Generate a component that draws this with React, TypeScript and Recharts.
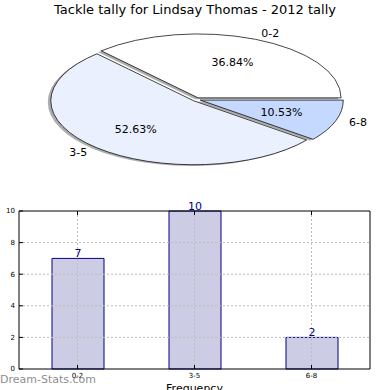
import React from "react";
import {
  PieChart,
  Pie,
  Cell,
  BarChart,
  Bar,
  XAxis,
  YAxis,
  ReferenceLine,
  LabelList,
} from "recharts";

const categories = ["0-2", "3-5", "6-8"];
const tallies = [7, 10, 2];
const sliceColors = ["#ffffff", "#eaf0fe", "#c5d8fe"];
const yTicks = [0, 2, 4, 6, 8, 10];
const gridY = [2, 4, 6, 8];

const FONT = "'DejaVu Sans', sans-serif";

// matplotlib draws the pie squashed, so draw a circle and squash it vertically
const K = 0.447;
const PIE_H = 460;
const CX = 196.5;
const CY = 99.5 / K;
const R = 143;
const EXPLODE = 4;
const SHADOW = 3;
const RAD = Math.PI / 180;

const pieData = categories.map((c, i) => ({ range: c, value: tallies[i] }));
const barData = categories.map((c, i) => ({ range: c, count: tallies[i] }));

const total = tallies.reduce((a, b) => a + b, 0);
const midAngles = tallies.map((v, i) => {
  const before = tallies.slice(0, i).reduce((a, b) => a + b, 0);
  return ((before + v / 2) / total) * 360;
});

function sliceLabel(i: number, cx: number, cy: number) {
  return (p: any) => {
    if (p.index !== i) return null;
    const mid = p.midAngle ?? midAngles[i];
    const cos = Math.cos(-mid * RAD);
    const sin = Math.sin(-mid * RAD);
    const lx = cx + R * 1.1 * cos;
    const ly = cy + R * 1.1 * sin;
    const px = cx + R * 0.6 * cos;
    const py = cy + R * 0.6 * sin;
    const pct = ((p.percent ?? tallies[i] / total) * 100).toFixed(2) + "%";
    return (
      <g>
        <text
          transform={`translate(${lx},${ly}) scale(1,${1 / K})`}
          textAnchor={cos >= 0 ? "start" : "end"}
          dominantBaseline="central"
          fontSize={11}
          fontFamily={FONT}
          fill="#000"
        >
          {categories[i]}
        </text>
        <text
          transform={`translate(${px},${py}) scale(1,${1 / K})`}
          textAnchor="middle"
          dominantBaseline="central"
          fontSize={11}
          fontFamily={FONT}
          fill="#000"
        >
          {pct}
        </text>
      </g>
    );
  };
}

export default function App() {
  return (
    <div
      style={{
        position: "absolute",
        left: 0,
        top: 0,
        width: 390,
        height: 390,
        background: "#fff",
        overflow: "hidden",
        fontFamily: FONT,
      }}
    >
      <div
        style={{
          position: "absolute",
          left: 0,
          top: 0,
          width: 390,
          height: PIE_H,
          transform: `scaleY(${K})`,
          transformOrigin: "0 0",
        }}
      >
        <PieChart width={390} height={PIE_H} margin={{ top: 0, right: 0, bottom: 0, left: 0 }}>
          {midAngles.map((m, i) => (
            <Pie
              key={"sh" + i}
              data={pieData}
              dataKey="value"
              nameKey="range"
              cx={CX + EXPLODE * Math.cos(m * RAD) - SHADOW}
              cy={CY - EXPLODE * Math.sin(m * RAD) + SHADOW}
              outerRadius={R}
              startAngle={0}
              endAngle={360}
              stroke="none"
              isAnimationActive={false}
            >
              {pieData.map((_, j) => (
                <Cell key={j} fill={j === i ? "#8a8a8a" : "none"} fillOpacity={0.7} stroke="none" />
              ))}
            </Pie>
          ))}
          {midAngles.map((m, i) => {
            const cx = CX + EXPLODE * Math.cos(m * RAD);
            const cy = CY - EXPLODE * Math.sin(m * RAD);
            return (
              <Pie
                key={"sl" + i}
                data={pieData}
                dataKey="value"
                nameKey="range"
                cx={cx}
                cy={cy}
                outerRadius={R}
                startAngle={0}
                endAngle={360}
                isAnimationActive={false}
                labelLine={false}
                label={sliceLabel(i, cx, cy)}
              >
                {pieData.map((_, j) => (
                  <Cell
                    key={j}
                    fill={j === i ? sliceColors[j] : "none"}
                    stroke={j === i ? "#000" : "none"}
                    strokeWidth={1}
                    vectorEffect="non-scaling-stroke"
                  />
                ))}
              </Pie>
            );
          })}
        </PieChart>
      </div>

      <div
        style={{
          position: "absolute",
          left: 0,
          top: 2,
          width: 390,
          textAlign: "center",
          fontSize: 13,
          lineHeight: "16px",
          color: "#000",
        }}
      >
        Tackle tally for Lindsay Thomas - 2012 tally
      </div>

      <div style={{ position: "absolute", left: 0, top: 195, width: 390, height: 195 }}>
        <BarChart
          width={390}
          height={195}
          data={barData}
          margin={{ top: 15, right: 19, bottom: 0, left: 0 }}
        >
          <XAxis
            dataKey="range"
            height={21}
            stroke="#000"
            tickSize={-4}
            tickMargin={8}
            tick={{ fontSize: 7, fill: "#000", fontFamily: FONT }}
            label={{
              value: "Frequency",
              position: "insideTop",
              offset: 15,
              fontSize: 11,
              fill: "#000",
              fontFamily: FONT,
            }}
          />
          <XAxis
            xAxisId="t"
            orientation="top"
            dataKey="range"
            height={1}
            stroke="#000"
            tickSize={-4}
            tickFormatter={() => ""}
          />
          <YAxis
            domain={[0, 10]}
            ticks={yTicks}
            width={19}
            stroke="#000"
            tickSize={-4}
            tickMargin={8}
            tick={{ fontSize: 7, fill: "#000", fontFamily: FONT }}
            label={{
              value: "Tackle Total",
              angle: -90,
              position: "center",
              dx: -14,
              fontSize: 11,
              fill: "#000",
              fontFamily: FONT,
            }}
          />
          <YAxis
            yAxisId="r"
            orientation="right"
            domain={[0, 10]}
            ticks={yTicks}
            width={1}
            stroke="#000"
            tickSize={-4}
            tickFormatter={() => ""}
          />
          <Bar
            dataKey="count"
            fill="#ccccE5"
            stroke="#000080"
            strokeWidth={1}
            barSize={52}
            isAnimationActive={false}
          >
            <LabelList
              dataKey="count"
              position="top"
              offset={1}
              fill="#000080"
              fontSize={11}
              fontFamily={FONT}
            />
          </Bar>
          {categories.map((c) => (
            <ReferenceLine key={"gx" + c} x={c} stroke="#bdbdbd" strokeDasharray="2 2" />
          ))}
          {gridY.map((v) => (
            <ReferenceLine key={"gy" + v} y={v} stroke="#bdbdbd" strokeDasharray="2 2" />
          ))}
        </BarChart>
      </div>

      <div
        style={{
          position: "absolute",
          left: 0,
          top: 372,
          fontSize: 11,
          color: "#8e8e8e",
          lineHeight: "16px",
          whiteSpace: "nowrap",
        }}
      >
        Dream-Stats.com
      </div>
    </div>
  );
}
